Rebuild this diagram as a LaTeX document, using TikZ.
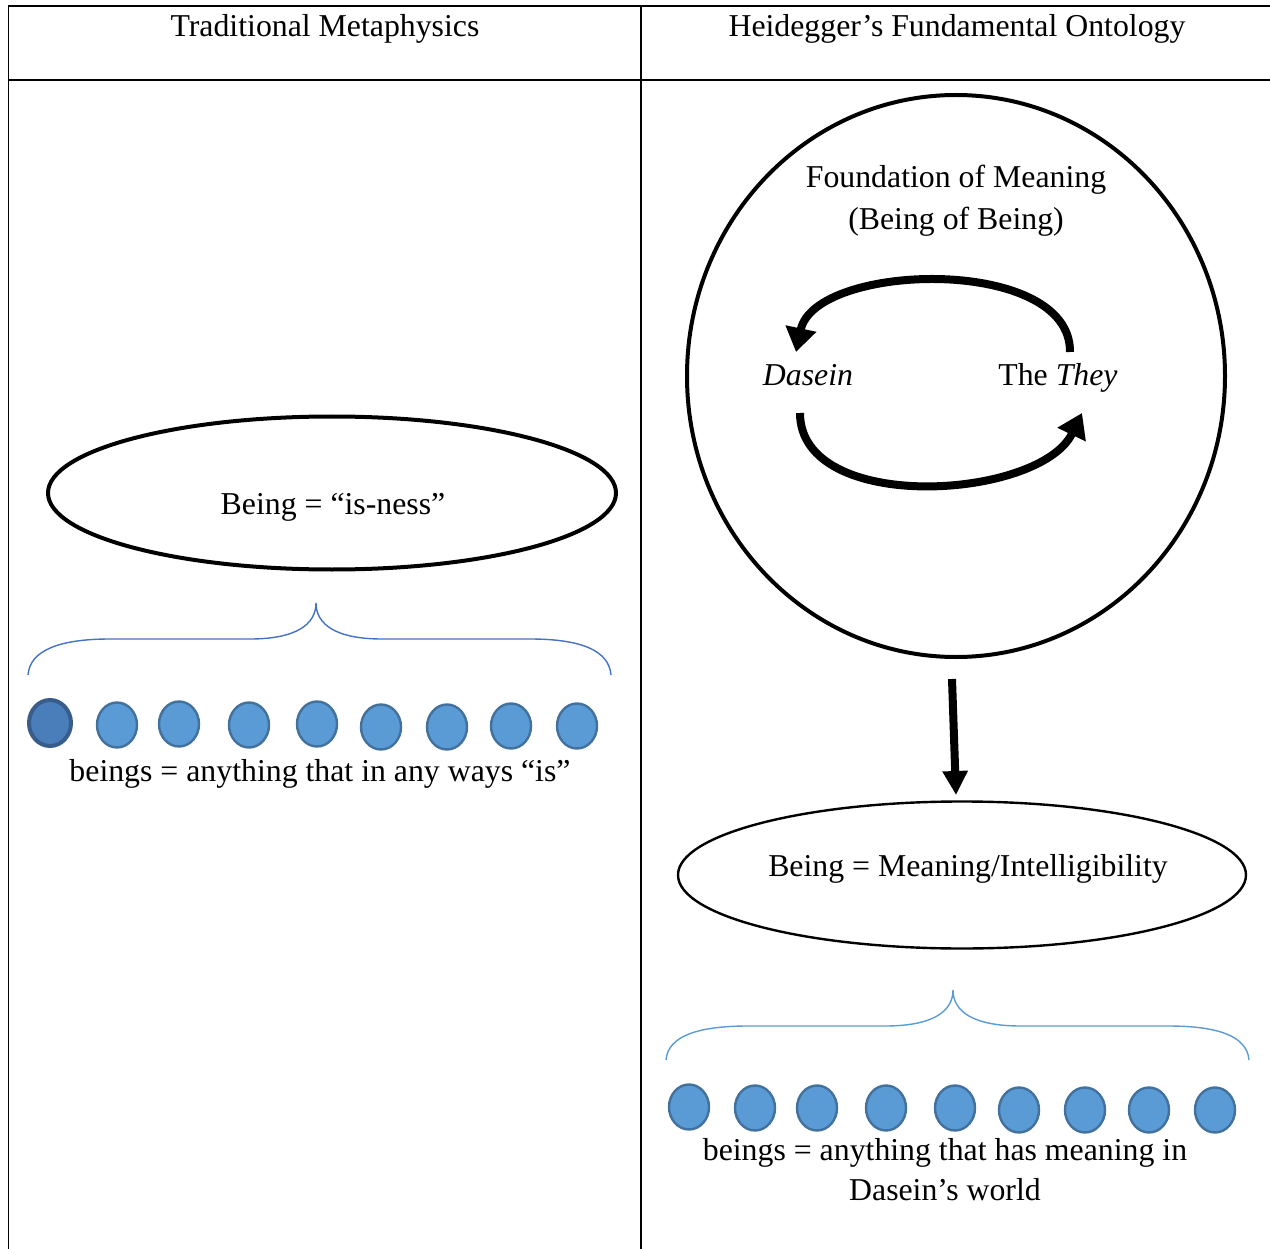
\documentclass[tikz,border=0pt]{standalone}
\usepackage{fontspec}
\setmainfont{Liberation Serif}
\usetikzlibrary{shapes.geometric,arrows.meta}

\definecolor{beingfill}{HTML}{5B9BD5}
\definecolor{beingedge}{HTML}{41719C}
\definecolor{firstfill}{HTML}{4A7EBB}
\definecolor{firstedge}{HTML}{385D8A}
\definecolor{braceA}{HTML}{4472C4}
\definecolor{braceB}{HTML}{5B9BD5}

\tikzset{
  rule/.style={line width=1.6pt, black},
  label/.style={anchor=base, inner sep=0pt, font=\fontsize{31.8}{42}\selectfont},
  bigoval/.style={ellipse, draw, inner sep=0pt},
  being/.style={ellipse, fill=beingfill, draw=beingedge, line width=2.4pt,
                minimum width=40pt, minimum height=45pt, inner sep=0pt},
  firstbeing/.style={being, fill=firstfill, draw=firstedge, line width=4pt,
                minimum width=42pt, minimum height=46pt},
  brace/.style={line width=1.4pt},
  turn/.style={line width=8pt, -{Triangle[length=24pt,width=30pt]}},
}

\begin{document}
\begin{tikzpicture}[x=1pt, y=-1pt]
  \useasboundingbox (0,0) rectangle (1270,1249);

  % table rules
  \draw[rule] (8.5,1249) -- (8.5,6) -- (1270,6);
  \draw[rule] (8.5,80) -- (1270,80);
  \draw[rule] (641,6) -- (641,1249);

  % column heads
  \node[label] (headL) at (325,37) {Traditional Metaphysics};
  \node[label] (headR) at (957,37) {Heidegger’s Fundamental Ontology};

  % ---- left column ----
  \node[bigoval, line width=4pt, minimum width=568pt, minimum height=153pt] (isness) at (332,493) {};
  \node[label] (isnessT) at (333,514) {Being = “is-ness”};

  \draw[brace, braceA] (28,675) .. controls (30,650) and (60,639) .. (110,639)
      -- (250,639) .. controls (295,639) and (316,625) .. (316,603)
      .. controls (316,625) and (337,639) .. (382,639)
      -- (530,639) .. controls (580,639) and (609,650) .. (611,675);

  \node[firstbeing] (L1) at (50,723) {};
  \foreach \i/\x/\y in {2/117/725, 3/179/724, 4/249/725, 5/317/724, 6/381/727, 7/447/727, 8/511/726, 9/577/726}
    \node[being] (L\i) at (\x,\y) {};
  \node[label] (beingsL) at (320,781) {beings = anything that in any ways “is”};

  % ---- right column ----
  \node[bigoval, line width=4pt, minimum width=538pt, minimum height=562pt] (ground) at (956,376) {};
  \node[label] (groundT1) at (956,188) {Foundation of Meaning};
  \node[label] (groundT2) at (956,230) {(Being of Being)};

  \node[label] (dasein) at (808,386) {\itshape Dasein};
  \node[label] (they) at (1058,386) {The \itshape They};

  \coordinate (topS) at (1070,352);
  \coordinate (topE) at (796,352);
  \coordinate (botS) at (800,413);
  \coordinate (botE) at (1082,413);
  \draw[turn] (topS) .. controls (1071,255) and (815,262) .. (topE);
  \draw[turn] (botS) .. controls (800,515) and (1040,500) .. (botE);

  \coordinate (downS) at (952,679);
  \coordinate (downE) at (956,795);
  \draw[line width=8pt, -{Triangle[length=24pt,width=24pt]}] (downS) -- (downE);

  \node[bigoval, line width=2.4pt, minimum width=568pt, minimum height=147pt] (meaning) at (962,875) {};
  \node[label] (meaningT) at (968,876) {Being = Meaning/Intelligibility};

  \draw[brace, braceB] (666,1060) .. controls (668,1036) and (698,1026) .. (748,1026)
      -- (885,1026) .. controls (932,1026) and (953,1012) .. (953,990)
      .. controls (953,1012) and (974,1026) .. (1021,1026)
      -- (1168,1026) .. controls (1218,1026) and (1247,1036) .. (1249,1060);

  \foreach \i/\x/\y in {1/689/1107, 2/755/1108, 3/817/1108, 4/886/1108, 5/955/1108, 6/1019/1110, 7/1085/1110, 8/1149/1110, 9/1215/1110}
    \node[being] (R\i) at (\x,\y) {};
  \node[label] (beingsR1) at (945,1160) {beings = anything that has meaning in};
  \node[label] (beingsR2) at (945,1200) {Dasein’s world};
\end{tikzpicture}
\end{document}
